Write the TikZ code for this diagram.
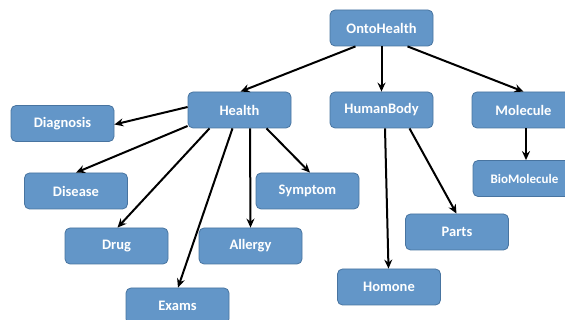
\documentclass[tikz,border=0pt]{standalone}
\usepackage{fontspec}
\setmainfont{Carlito}
\usepackage{xcolor}
\usetikzlibrary{positioning, arrows.meta, calc}

\definecolor{boxfill}{RGB}{99,150,200}
\definecolor{boxline}{RGB}{72,116,160}

\begin{document}
\begin{tikzpicture}[ x = 1pt
                     , y = -1pt
                     , font = \bfseries\fontsize{14.5}{16}\selectfont
                     , >={Stealth[length=9pt, width=8pt, inset=3pt]}
                     , concept/.style = { rectangle
                                        , rounded corners = 5pt
                                        , draw = boxline
                                        , fill = boxfill
                                        , text = white
                                        , line width = 0.8pt
                                        , align = center
                                        , minimum width = 103pt
                                        , minimum height = 36pt }
                     , link/.style = { ->, line width = 2pt, black }
                     ]

  \useasboundingbox (0,0) rectangle (565,320);

  \node (ontohealth) [concept] at (381.5,28) {OntoHealth};
  \node (health) [concept] at (239.5,110) {Health};
  \node (humanbody) [concept] at (381.5,110) {HumanBody};
  \node (molecule) [concept] at (523.5,110) {Molecule};
  \node (diagnosis) [concept] at (62.5,123.5) {Diagnosis};
  \node (disease) [concept] at (76,191) {Disease};
  \node (symptom) [concept] at (307.5,191) {Symptom};
  \node (biomolecule) [concept, font = \bfseries\fontsize{13}{15}\selectfont] at (524.5,178.5) {BioMolecule};
  \node (drug) [concept] at (116.5,246) {Drug};
  \node (allergy) [concept] at (250.5,246) {Allergy};
  \node (parts) [concept] at (457,232) {Parts};
  \node (homone) [concept] at (389,287) {Homone};
  \node (exams) [concept] at (177.5,306) {Exams};

  % top level
  \draw[link] ([xshift=-26pt]ontohealth.south) -- ([xshift=1pt]health.north);
  \draw[link] (ontohealth.south) -- (humanbody.north);
  \draw[link] ([xshift=26pt]ontohealth.south) -- (molecule.north);

  % under Health
  \draw[link] ([yshift=3pt]health.west) -- ([yshift=-1pt]diagnosis.east);
  \draw[link] ([yshift=-16pt]health.west) -- (disease.north);
  \draw[link] ([xshift=-30pt]health.south) -- ([xshift=1pt]drug.north);
  \draw[link] ([xshift=-7pt]health.south) -- ([xshift=0.5pt]exams.north);
  \draw[link] ([xshift=10.5pt]health.south) -- (allergy.north);
  \draw[link] ([xshift=27pt]health.south) -- ([xshift=2.5pt]symptom.north);

  % under HumanBody and Molecule
  \draw[link] ([xshift=3.5pt]humanbody.south) -- ([xshift=-0.5pt]homone.north);
  \draw[link] ([xshift=28pt]humanbody.south) -- ([xshift=-0.5pt]parts.north);
  \draw[link] ([xshift=2.5pt]molecule.south) -- ([xshift=1.5pt]biomolecule.north);

\end{tikzpicture}
\end{document}
